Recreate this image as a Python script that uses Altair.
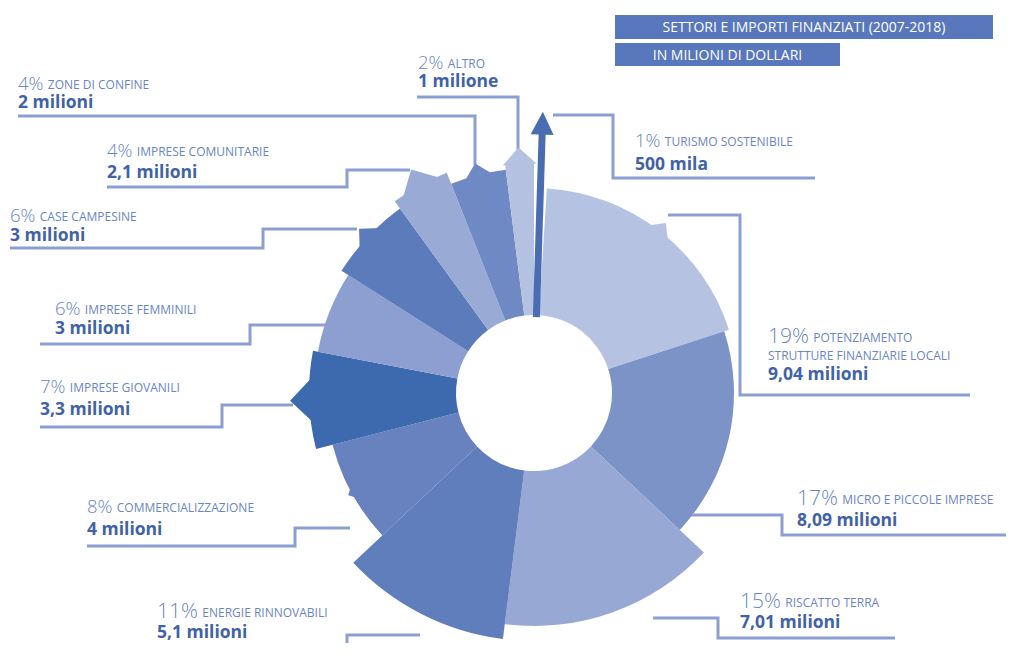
import altair as alt
import pandas as pd
import numpy as np

# ---------------- data ----------------
sectors = [
    "turismo sostenibile",
    "potenziamento\nstrutture finanziarie locali",
    "micro e piccole imprese",
    "riscatto terra",
    "energie rinnovabili",
    "commercializzazione",
    "imprese giovanili",
    "imprese femminili",
    "case campesine",
    "imprese comunitarie",
    "zone di confine",
    "altro",
]
percent = [1, 19, 17, 15, 11, 8, 7, 6, 6, 4, 4, 2]
amount_text = ["500 mila", "9,04 milioni", "8,09 milioni", "7,01 milioni", "5,1 milioni",
               "4 milioni", "3,3 milioni", "3 milioni", "3 milioni", "2,1 milioni",
               "2 milioni", "1 milione"]
# how far each wedge reaches out from the centre, as drawn
wedge_reach = [281, 205, 200, 233, 248, 208, 225, 220, 228, 237, 225, 232]
# how far the pointed tip of each wedge reaches
tip_reach = [281, 215, 200, 233, 248, 212, 244, 220, 240, 255, 237, 246]
title_lines = ["SETTORI E IMPORTI FINANZIATI (2007-2018)", "IN MILIONI DI DOLLARI"]

# ---------------- styles ----------------
wedge_colors = ["#4a6db2", "#b6c2e1", "#7c93c8", "#97a8d4", "#5f7ebb", "#6782bf",
                "#3d69ae", "#8c9fd0", "#5c7bbb", "#99aad5", "#6f89c4", "#b5c1e1"]
PCT_COLOR = "#6a85c4"
VAL_COLOR = "#3f62a8"
LINE_COLOR = "#8b9fd3"
BOX_COLOR = "#5877bd"
FONT = "Open Sans"

# ---------------- layout (page pixels) ----------------
OFF = 8
W, H = 998, 635
CX, CY = 534 - OFF, 393 - OFF
HOLE = 78

label_pos = [  # (percent x, percent baseline, value baseline)
    (635, 147, 170),
    (768, 343, 380),
    (797, 505, 526),
    (740, 608, 628),
    (157, 618, 638),
    (87, 513, 535),
    (40, 393, 415),
    (55, 315, 334),
    (10, 222, 241),
    (107, 157, 178),
    (18, 90, 108),
    (418, 69, 87),
]
leaders = [
    [(815, 178), (613, 178), (613, 115), (553, 115)],
    [(970, 395), (740, 395), (740, 215), (668, 215)],
    [(1014, 535), (782, 535), (782, 515), (685, 515)],
    [(895, 638), (718, 638), (718, 618), (653, 618)],
    [(157, 660), (347, 660), (347, 635), (420, 635)],
    [(87, 546), (295, 546), (295, 528), (350, 528)],
    [(40, 427), (222, 427), (222, 405), (293, 405)],
    [(40, 344), (250, 344), (250, 325), (335, 325)],
    [(10, 248), (263, 248), (263, 229), (357, 229)],
    [(107, 187), (347, 187), (347, 170), (410, 170)],
    [(18, 116), (475, 116), (475, 165)],
    [(417, 97), (518, 97), (518, 150)],
]
boxes = [(615, 15, 993, 39), (615, 43, 840, 66)]

# ---------------- tables ----------------
n = len(sectors)
df = pd.DataFrame({"sector": sectors, "pct": percent, "reach": wedge_reach,
                   "tip": tip_reach, "ord": list(range(n))})
total = float(sum(percent))
cum_end = np.cumsum(percent)
cum_start = cum_end - np.array(percent)
df["a0"] = cum_start / total * 2 * np.pi
df["a1"] = cum_end / total * 2 * np.pi
df["mid"] = (cum_start + df["pct"] / 2) / total * 360.0
df["reach_arc"] = np.where(df["ord"] == 0, HOLE, df["reach"])

color_scale = alt.Scale(domain=sectors, range=wedge_colors)
XN = lambda f: alt.X(f, type="quantitative", scale=None, axis=None)
YN = lambda f: alt.Y(f, type="quantitative", scale=None, axis=None)

arcs = alt.Chart(df).mark_arc(innerRadius=HOLE, strokeWidth=0).encode(
    theta=alt.Theta("a0:Q", scale=None, stack=None),
    theta2="a1:Q",
    radius=alt.Radius("reach_arc:Q", scale=alt.Scale(type="linear", domain=[0, 300],
                                                     range=[0, 300]), stack=None),
    color=alt.Color("sector:N", scale=color_scale, legend=None),
    x=alt.value(CX), y=alt.value(CY),
)

# pointed tips
tips = df[(df["tip"] - df["reach_arc"] > 1) & (df["ord"] > 0)].copy()
th = tips["tip"] - tips["reach_arc"]
tips["size"] = (2 * th + 6) ** 2
tr = np.deg2rad(tips["mid"])
tips["x"] = CX + tips["tip"] * np.sin(tr)
tips["y"] = CY - tips["tip"] * np.cos(tr)
tip_layer = alt.Chart(tips).mark_point(filled=True, opacity=1, strokeWidth=0,
                                       shape="M-1,1L0,0L1,1Z").encode(
    x=XN("x"), y=YN("y"),
    size=alt.Size("size:Q", scale=None),
    angle=alt.Angle("mid:Q", scale=None),
    color=alt.Color("sector:N", scale=color_scale, legend=None),
)

# arrow for the 1% slice
arr = df[df["ord"] == 0].copy()
ar = np.deg2rad(arr["mid"])
arr["x0"] = CX + (HOLE - 2) * np.sin(ar)
arr["y0"] = CY - (HOLE - 2) * np.cos(ar)
arr["x1"] = CX + (arr["tip"] - 18) * np.sin(ar)
arr["y1"] = CY - (arr["tip"] - 18) * np.cos(ar)
arr["xh"] = CX + (arr["tip"] - 11) * np.sin(ar)
arr["yh"] = CY - (arr["tip"] - 11) * np.cos(ar)
shaft = alt.Chart(arr).mark_rule(strokeWidth=7, color=wedge_colors[0]).encode(
    x=XN("x0"), y=YN("y0"), x2="x1:Q", y2="y1:Q")
head = alt.Chart(arr).mark_point(filled=True, opacity=1, strokeWidth=0, size=23 * 23,
                                 shape="M-1,1L0,-1L1,1Z", color=wedge_colors[0]).encode(
    x=XN("xh"), y=YN("yh"), angle=alt.Angle("mid:Q", scale=None))

# leader lines
lrows = []
for i, pts in enumerate(leaders):
    for k, (px, py) in enumerate(pts):
        lrows.append({"key": i, "k": k, "x": px - OFF, "y": py - OFF})
lines = alt.Chart(pd.DataFrame(lrows)).mark_line(
    color=LINE_COLOR, strokeWidth=3, strokeJoin="miter", strokeCap="butt").encode(
    x=XN("x"), y=YN("y"), detail="key:N", order="k:Q")

# labels
def pct_width(s, fs):
    return sum(0.823 if c == "%" else 0.572 for c in s) * fs

prow, nrow, vrow = [], [], []
for i in range(n):
    px, py, vy = label_pos[i]
    fs = 21 if percent[i] >= 10 else 18.5
    ps = f"{percent[i]}%"
    prow.append({"x": px - OFF, "y": py - OFF, "t": ps, "fs": fs})
    parts = sectors[i].upper().split("\n")
    nx = px + pct_width(ps, fs) + 4
    nrow.append({"x": nx - OFF, "y": py - 1 - OFF, "t": parts[0]})
    for k, ln in enumerate(parts[1:]):
        nrow.append({"x": px - OFF, "y": py - OFF + 17 * (k + 1), "t": ln})
    vrow.append({"x": px - OFF, "y": vy - OFF, "t": amount_text[i]})

pct_text = alt.Chart(pd.DataFrame(prow)).mark_text(
    align="left", baseline="alphabetic", font=FONT, fontWeight=300, color=PCT_COLOR).encode(
    x=XN("x"), y=YN("y"), text="t:N", size=alt.Size("fs:Q", scale=None))
name_text = alt.Chart(pd.DataFrame(nrow)).mark_text(
    align="left", baseline="alphabetic", font=FONT, fontSize=12, color=PCT_COLOR).encode(
    x=XN("x"), y=YN("y"), text="t:N")
val_text = alt.Chart(pd.DataFrame(vrow)).mark_text(
    align="left", baseline="alphabetic", font=FONT, fontSize=17.5, fontWeight="bold",
    color=VAL_COLOR).encode(x=XN("x"), y=YN("y"), text="t:N")

# title boxes
tb = pd.DataFrame({"t": title_lines,
                   "x0": [b[0] - OFF for b in boxes], "x1": [b[2] - OFF for b in boxes],
                   "y0": [b[1] - OFF for b in boxes], "y1": [b[3] - OFF for b in boxes]})
tb["xc"] = (tb["x0"] + tb["x1"]) / 2
tb["yc"] = (tb["y0"] + tb["y1"]) / 2 + 1
rects = alt.Chart(tb).mark_rect(color=BOX_COLOR).encode(
    x=XN("x0"), x2="x1:Q", y=YN("y0"), y2="y1:Q")
ttext = alt.Chart(tb).mark_text(align="center", baseline="middle", font=FONT, fontSize=14,
                                color="white").encode(x=XN("xc"), y=YN("yc"), text="t:N")

chart = alt.layer(lines, arcs, tip_layer, shaft, head, rects, ttext,
                  pct_text, name_text, val_text).properties(
    width=W, height=H, padding=0, autosize="none", background="white"
).configure_view(stroke=None)

chart.save("out.html", embed_options={"renderer": "svg", "actions": False})
